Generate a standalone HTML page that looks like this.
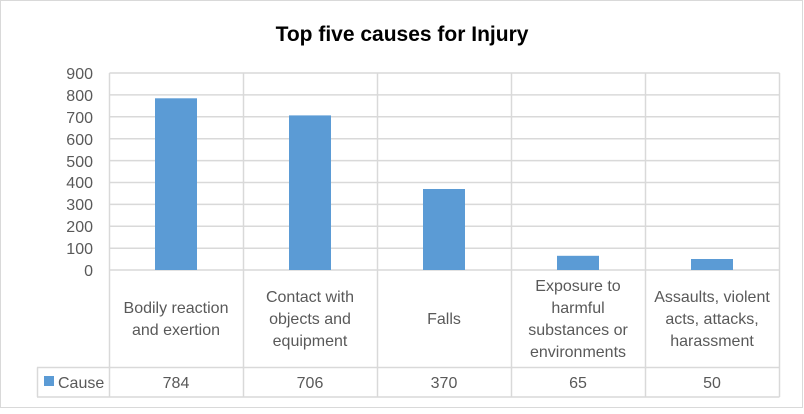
<!DOCTYPE html>
<html><head><style>
body{margin:0;background:#fff}
svg text{font-family:"Liberation Sans",sans-serif;fill:#595959}
</style></head><body>
<svg width="804" height="409" xmlns="http://www.w3.org/2000/svg">
<rect x="0.5" y="0.5" width="802" height="407" fill="#fff" stroke="#d9d9d9"/>
<text x="402" y="41" text-anchor="middle" style="font-size:21px;font-weight:bold;fill:#000">Top five causes for Injury</text>
<g stroke="#d9d9d9" stroke-width="1.5" fill="none">
<line x1="109.5" y1="73" x2="779.5" y2="73"/>
<line x1="109.5" y1="94.9" x2="779.5" y2="94.9"/>
<line x1="109.5" y1="116.8" x2="779.5" y2="116.8"/>
<line x1="109.5" y1="138.7" x2="779.5" y2="138.7"/>
<line x1="109.5" y1="160.6" x2="779.5" y2="160.6"/>
<line x1="109.5" y1="182.5" x2="779.5" y2="182.5"/>
<line x1="109.5" y1="204.4" x2="779.5" y2="204.4"/>
<line x1="109.5" y1="226.3" x2="779.5" y2="226.3"/>
<line x1="109.5" y1="248.2" x2="779.5" y2="248.2"/>
<line x1="109.5" y1="270" x2="779.5" y2="270"/>
<line x1="109.5" y1="73" x2="109.5" y2="397"/>
<line x1="243.5" y1="73" x2="243.5" y2="397"/>
<line x1="377.5" y1="73" x2="377.5" y2="397"/>
<line x1="511.5" y1="73" x2="511.5" y2="397"/>
<line x1="645.5" y1="73" x2="645.5" y2="397"/>
<line x1="779.5" y1="73" x2="779.5" y2="397"/>
<line x1="37" y1="367.5" x2="779.5" y2="367.5"/>
<line x1="37" y1="397" x2="779.5" y2="397"/>
<line x1="37.5" y1="367.5" x2="37.5" y2="397"/>
</g>
<g fill="#5b9bd5">
<rect x="155" y="98.3" width="42" height="171.7"/>
<rect x="289" y="115.4" width="42" height="154.6"/>
<rect x="423" y="189" width="42" height="81"/>
<rect x="557" y="255.8" width="42" height="14.2"/>
<rect x="691" y="259" width="42" height="11"/>
</g>
<g style="font-size:16px" text-anchor="end">
<text x="93" y="79">900</text><text x="93" y="101">800</text><text x="93" y="123">700</text>
<text x="93" y="145">600</text><text x="93" y="167">500</text><text x="93" y="188">400</text>
<text x="93" y="210">300</text><text x="93" y="232">200</text><text x="93" y="254">100</text>
<text x="93" y="276">0</text>
</g>
<g style="font-size:16px" text-anchor="middle">
<text x="176" y="313">Bodily reaction</text><text x="176" y="335">and exertion</text>
<text x="310" y="302">Contact with</text><text x="310" y="324">objects and</text><text x="310" y="346">equipment</text>
<text x="444" y="324">Falls</text>
<text x="578" y="291">Exposure to</text><text x="578" y="313">harmful</text><text x="578" y="335">substances or</text><text x="578" y="357">environments</text>
<text x="712" y="302">Assaults, violent</text><text x="712" y="324">acts, attacks,</text><text x="712" y="346">harassment</text>
<text x="176" y="388">784</text><text x="310" y="388">706</text><text x="444" y="388">370</text><text x="578" y="388">65</text><text x="712" y="388">50</text>
</g>
<rect x="44" y="376" width="10" height="10" fill="#5b9bd5"/>
<text x="58" y="388" style="font-size:16px">Cause</text>
</svg>
</body></html>
